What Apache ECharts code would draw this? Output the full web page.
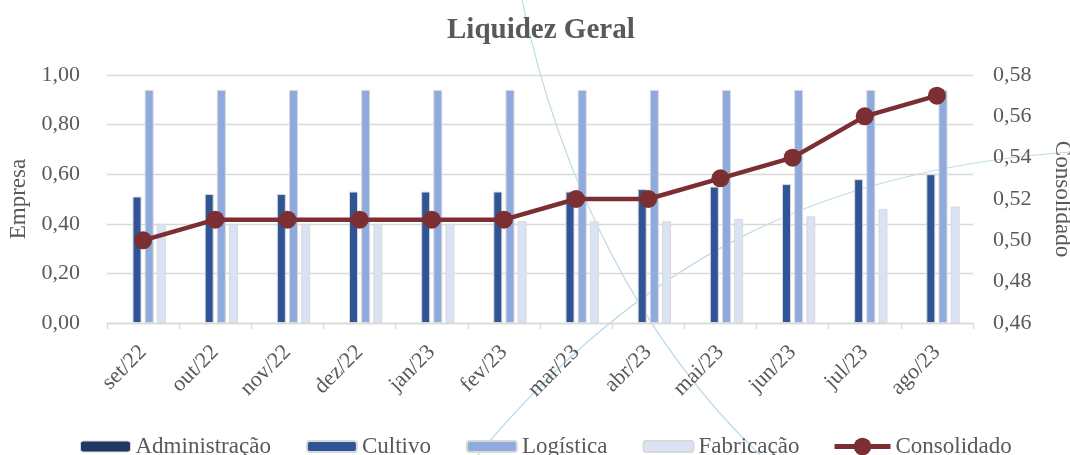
<!DOCTYPE html>
<html>
<head>
<meta charset="utf-8">
<script src="https://cdn.jsdelivr.net/npm/echarts@6/dist/echarts.min.js"></script>
<style>
  html, body { margin: 0; padding: 0; background: #fff; }
  #chart { width: 1070px; height: 455px; }
</style>
</head>
<body>
<div id="chart"></div>
<script>
// dados do gráfico
const meses = ["set/22", "out/22", "nov/22", "dez/22", "jan/23", "fev/23", "mar/23", "abr/23", "mai/23", "jun/23", "jul/23", "ago/23"];
const administracao = [0, 0, 0, 0, 0, 0, 0, 0, 0, 0, 0, 0];
const cultivo = [0.51, 0.52, 0.52, 0.53, 0.53, 0.53, 0.53, 0.54, 0.55, 0.56, 0.58, 0.60];
const logistica = [0.94, 0.94, 0.94, 0.94, 0.94, 0.94, 0.94, 0.94, 0.94, 0.94, 0.94, 0.94];
const fabricacao = [0.40, 0.40, 0.40, 0.40, 0.40, 0.41, 0.41, 0.41, 0.42, 0.43, 0.46, 0.47];
const consolidado = [0.50, 0.51, 0.51, 0.51, 0.51, 0.51, 0.52, 0.52, 0.53, 0.54, 0.56, 0.57];

const fonte = "Liberation Serif";
const cinza = "#595959";
const vinho = "#7b2f33";
const virgula = (v) => v.toFixed(2).replace(".", ",");

const barra = (nome, dados, cor, borda = 1) => ({
  name: nome,
  type: "bar",
  data: dados,
  barWidth: 9,
  barGap: "35%",
  itemStyle: { color: cor, borderColor: "#d9d9d9", borderWidth: borda },
});

const legendaTexto = { fontFamily: fonte, fontSize: 23, color: cinza };

const chart = echarts.init(document.getElementById("chart"));
chart.setOption({
  backgroundColor: "#fff",
  textStyle: { fontFamily: fonte, color: cinza },
  title: {
    text: "Liquidez Geral",
    left: 442,
    top: 11,
    textStyle: { fontFamily: fonte, fontSize: 29, fontWeight: "bold", color: cinza },
  },
  grid: { left: 107, right: 97, top: 75, bottom: 132, containLabel: false, outerBoundsMode: "none" },
  legend: [
    {
      top: 430,
      left: 75,
      itemWidth: 50,
      itemHeight: 11,
      itemGap: 35,
      textStyle: legendaTexto,
      data: [
        { name: "Administração", itemStyle: { borderWidth: 1, borderColor: "#d9d9d9" } },
        "Cultivo",
        "Logística",
        "Fabricação",
      ],
    },
    {
      top: 430,
      left: 827,
      itemWidth: 56,
      itemHeight: 22,
      textStyle: legendaTexto,
      data: [{ name: "Consolidado", lineStyle: { width: 5, color: vinho }, itemStyle: { color: vinho } }],
    },
  ],
  // curvas decorativas do fundo
  graphic: [
    {
      type: "bezierCurve",
      z: -1,
      shape: { x1: 522, y1: 0, x2: 760, y2: 455, cpx1: 560, cpy1: 180, cpx2: 640, cpy2: 340 },
      style: { stroke: "#bcdbe8", lineWidth: 1.2, fill: null },
    },
    {
      type: "bezierCurve",
      z: -1,
      shape: { x1: 478, y1: 455, x2: 1070, y2: 152, cpx1: 640, cpy1: 260, cpx2: 820, cpy2: 170 },
      style: { stroke: "#bcdbe8", lineWidth: 1.2, fill: null },
    },
  ],
  xAxis: {
    type: "category",
    data: meses,
    axisLine: { lineStyle: { color: "#d9d9d9", width: 1.3 } },
    axisTick: { show: true, length: 6, lineStyle: { color: "#d9d9d9", width: 1.3 } },
    axisLabel: { rotate: 45, margin: 26, fontSize: 22, color: cinza, fontFamily: fonte },
  },
  yAxis: [
    {
      type: "value",
      name: "Empresa",
      nameLocation: "middle",
      nameGap: 75,
      nameTextStyle: { fontSize: 23, color: cinza, fontFamily: fonte },
      min: 0,
      max: 1,
      interval: 0.2,
      axisLine: { show: false },
      axisTick: { show: false },
      axisLabel: { fontSize: 22, color: cinza, margin: 27, fontFamily: fonte, formatter: virgula },
      splitLine: { lineStyle: { color: "#d9d9d9", width: 1.3 } },
    },
    {
      type: "value",
      name: "Consolidado",
      nameLocation: "middle",
      nameGap: 78,
      nameRotate: -90,
      nameTextStyle: { fontSize: 23, color: cinza, fontFamily: fonte },
      min: 0.46,
      max: 0.58,
      interval: 0.02,
      axisLine: { show: false },
      axisTick: { show: false },
      axisLabel: { fontSize: 22, color: cinza, margin: 20, fontFamily: fonte, formatter: virgula },
      splitLine: { show: false },
    },
  ],
  series: [
    barra("Administração", administracao, "#1f3864", 0),
    barra("Cultivo", cultivo, "#2f5597"),
    barra("Logística", logistica, "#8faadc"),
    barra("Fabricação", fabricacao, "#dae3f3"),
    {
      name: "Consolidado",
      type: "line",
      yAxisIndex: 1,
      data: consolidado,
      symbol: "circle",
      symbolSize: 18,
      lineStyle: { color: vinho, width: 4.5 },
      itemStyle: { color: vinho },
      z: 5,
    },
  ],
});
</script>
</body>
</html>
